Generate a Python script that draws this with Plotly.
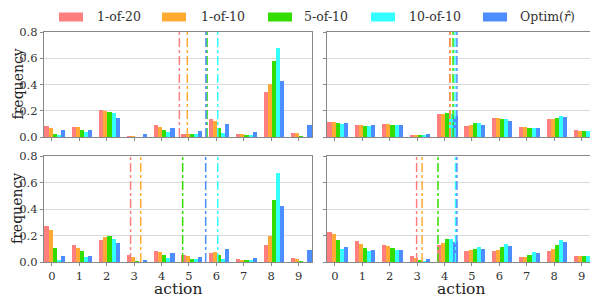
import plotly.graph_objects as go

actions = list(range(10))
tick_labels = [str(a) for a in actions]
series_names = ["1-of-20", "1-of-10", "5-of-10", "10-of-10", "Optim(<i>r̂</i>)"]
colors = ["#FF7F7F", "#FFAA33", "#33DD00", "#33FFFF", "#4C8DFF"]

# top-left panel frequencies (one list per series)
tl_1of20 = [0.087, 0.080, 0.207, 0.002, 0.091, 0.020, 0.137, 0.025, 0.342, 0.033]
tl_1of10 = [0.070, 0.073, 0.200, 0.002, 0.076, 0.020, 0.120, 0.025, 0.405, 0.028]
tl_5of10 = [0.025, 0.055, 0.187, 0.000, 0.055, 0.025, 0.070, 0.018, 0.577, 0.002]
tl_10of10 = [0.018, 0.038, 0.180, 0.000, 0.035, 0.022, 0.030, 0.015, 0.676, 0.000]
tl_optim = [0.050, 0.050, 0.147, 0.020, 0.070, 0.043, 0.096, 0.035, 0.430, 0.090]

# top-right panel
tr_1of20 = [0.117, 0.091, 0.101, 0.013, 0.172, 0.081, 0.147, 0.078, 0.134, 0.053]
tr_1of10 = [0.111, 0.089, 0.099, 0.013, 0.177, 0.089, 0.142, 0.076, 0.139, 0.048]
tr_5of10 = [0.104, 0.086, 0.094, 0.010, 0.182, 0.106, 0.139, 0.071, 0.147, 0.048]
tr_10of10 = [0.099, 0.084, 0.091, 0.010, 0.177, 0.106, 0.134, 0.071, 0.160, 0.046]
tr_optim = [0.109, 0.091, 0.091, 0.020, 0.157, 0.091, 0.122, 0.066, 0.149, 0.096]

# bottom-left panel
bl_1of20 = [0.268, 0.127, 0.167, 0.053, 0.081, 0.051, 0.068, 0.020, 0.132, 0.028]
bl_1of10 = [0.243, 0.109, 0.187, 0.035, 0.076, 0.043, 0.073, 0.013, 0.197, 0.025]
bl_5of10 = [0.109, 0.084, 0.197, 0.003, 0.053, 0.020, 0.056, 0.008, 0.468, 0.003]
bl_10of10 = [0.015, 0.035, 0.177, 0.000, 0.033, 0.020, 0.025, 0.013, 0.673, 0.000]
bl_optim = [0.046, 0.046, 0.142, 0.015, 0.066, 0.038, 0.096, 0.033, 0.425, 0.089]

# bottom-right panel
br_1of20 = [0.228, 0.157, 0.129, 0.043, 0.127, 0.081, 0.081, 0.035, 0.084, 0.043]
br_1of10 = [0.210, 0.139, 0.122, 0.030, 0.144, 0.089, 0.089, 0.035, 0.096, 0.043]
br_5of10 = [0.165, 0.109, 0.106, 0.015, 0.172, 0.099, 0.111, 0.051, 0.132, 0.043]
br_10of10 = [0.101, 0.086, 0.094, 0.003, 0.177, 0.111, 0.134, 0.073, 0.165, 0.046]
br_optim = [0.111, 0.094, 0.094, 0.023, 0.154, 0.096, 0.122, 0.068, 0.152, 0.099]

# vertical dash-dot lines (mean action), series order
tl_means = [4.65, 4.94, 5.66, 6.05, 5.62]
tr_means = [4.19, 4.21, 4.31, 4.38, 4.45]
bl_means = [2.87, 3.24, 4.77, 6.05, 5.61]
br_means = [2.98, 3.18, 3.76, 4.40, 4.45]

panels = [
    ([tl_1of20, tl_1of10, tl_5of10, tl_10of10, tl_optim], tl_means, "x", "y"),
    ([tr_1of20, tr_1of10, tr_5of10, tr_10of10, tr_optim], tr_means, "x2", "y2"),
    ([bl_1of20, bl_1of10, bl_5of10, bl_10of10, bl_optim], bl_means, "x3", "y3"),
    ([br_1of20, br_1of10, br_5of10, br_10of10, br_optim], br_means, "x4", "y4"),
]

FONT = "DejaVu Serif"
# the page body has an 8px margin; size the figure to fill the rest of the window
OFF = 8
W, H = 598 - OFF, 298 - OFF


def px(x):
    return (x - OFF) / W


def py(y):
    return 1 - (y - OFF) / H


bar_w = 0.15

fig = go.Figure()
shapes = []
for series, means, xa, ya in panels:
    for j, vals in enumerate(series):
        fig.add_trace(go.Bar(
            x=actions, y=vals, xaxis=xa, yaxis=ya,
            width=bar_w, offset=-0.275 + j * bar_w,
            marker=dict(color=colors[j], line=dict(width=0)),
            showlegend=False, name=series_names[j],
        ))
    for j, m in enumerate(means):
        shapes.append(dict(type="line", xref=xa, yref=ya + " domain",
                           x0=m, x1=m, y0=0, y1=1,
                           line=dict(color=colors[j], width=1.5, dash="dashdot")))

xdom = [(px(44), px(312)), (px(327), px(595))]
ydom = [(py(137), py(32)), (py(262), py(156))]

axis_common = dict(showline=True, linecolor="#888888", linewidth=1.3, mirror=True,
                   ticks="outside", ticklen=3, tickcolor="#888888", automargin=False,
                   tickfont=dict(family=FONT, size=11.5, color="#333333"))

layout = dict(width=W, height=H, autosize=False, margin=dict(l=0, r=0, t=0, b=0, pad=0),
              paper_bgcolor="white", plot_bgcolor="white",
              barmode="overlay", bargap=0, showlegend=False,
              font=dict(family=FONT, color="#222222"))

for i, (xa, ya) in enumerate([("xaxis", "yaxis"), ("xaxis2", "yaxis2"), ("xaxis3", "yaxis3"), ("xaxis4", "yaxis4")]):
    r, c = divmod(i, 2)
    xanchor = "y" if i == 0 else "y%d" % (i + 1)
    yanchor = "x" if i == 0 else "x%d" % (i + 1)
    layout[xa] = dict(domain=xdom[c], anchor=xanchor, range=[-0.29, 9.49],
                      tickvals=actions, ticktext=tick_labels,
                      showticklabels=(r == 1), showgrid=False, zeroline=False,
                      **axis_common)
    layout[ya] = dict(domain=ydom[r], anchor=yanchor, range=[0, 0.8],
                      tickvals=[0, 0.2, 0.4, 0.6, 0.8],
                      ticktext=["0.0", "0.2", "0.4", "0.6", "0.8"],
                      showticklabels=(c == 0), showgrid=True,
                      gridcolor="#DADADA", gridwidth=1, zeroline=False,
                      **axis_common)

annotations = []
# axis titles
for yc in [(32 + 137) / 2, (156 + 262) / 2]:
    annotations.append(dict(text="frequency", xref="paper", yref="paper",
                            x=px(8), y=py(yc), showarrow=False, textangle=-90,
                            borderpad=0,
                            font=dict(family=FONT, size=14, color="#222222"),
                            xanchor="left", yanchor="middle"))
for xc in [178, 461]:
    annotations.append(dict(text="action", xref="paper", yref="paper",
                            x=px(xc), y=py(288.5), showarrow=False, borderpad=0,
                            font=dict(family=FONT, size=15.5, color="#222222"),
                            xanchor="center", yanchor="middle"))

# manual legend
rect_x = [59, 162, 268, 371, 483]
text_x = [95, 199, 302, 407, 518]
for j in range(5):
    shapes.append(dict(type="rect", xref="paper", yref="paper",
                       x0=px(rect_x[j]), x1=px(rect_x[j] + 24),
                       y0=py(21.5), y1=py(12.5),
                       fillcolor=colors[j], line=dict(width=0)))
    annotations.append(dict(text=series_names[j], xref="paper", yref="paper",
                            x=px(text_x[j]), y=py(17), showarrow=False,
                            xanchor="left", yanchor="middle",
                            font=dict(family=FONT, size=12.5, color="#333333")))

layout["shapes"] = shapes
layout["annotations"] = annotations
fig.update_layout(**layout)
fig.write_html("out.html")
